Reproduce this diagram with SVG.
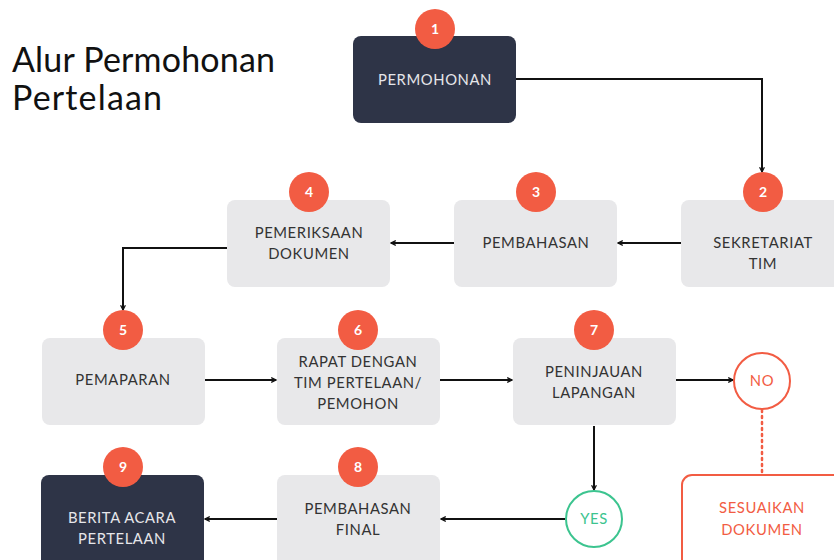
<svg xmlns="http://www.w3.org/2000/svg" width="834" height="560" viewBox="0 0 834 560">
<defs>
<style>
.box{fill:#e8e8ea}
.dark{fill:#2e3447}
.t{font-family:Lato,"Open Sans",sans-serif;font-size:14.8px;letter-spacing:0.6px;text-anchor:middle;fill:#333333}
.tl{fill:#e6e6ea}
.badge{fill:#f25c43}
.n{font-family:Lato,"Open Sans",sans-serif;font-size:14px;font-weight:bold;text-anchor:middle;fill:#ffffff}
.c{fill:none;stroke:#111111;stroke-width:2}
.title{font-family:Lato,"Open Sans",sans-serif;font-size:34px;fill:#111111}
</style>
<marker id="ah" viewBox="0 0 10 10" refX="9" refY="5" markerWidth="6" markerHeight="6" orient="auto-start-reverse" markerUnits="userSpaceOnUse">
<path d="M1,1 L9,5 L1,9" fill="none" stroke="#111111" stroke-width="2"/>
</marker>
</defs>
<rect width="834" height="560" fill="#ffffff"/>
<g id="title">
<text class="title" x="12" y="72" textLength="263">Alur Permohonan</text>
<text class="title" x="12" y="110" textLength="150">Pertelaan</text>
</g>
<g id="connectors">
<polyline class="c" points="516,79 762,79 762,172" marker-end="url(#ah)"/>
<line class="c" x1="681" y1="243" x2="618" y2="243" marker-end="url(#ah)"/>
<line class="c" x1="454" y1="243" x2="391" y2="243" marker-end="url(#ah)"/>
<polyline class="c" points="227,248 123,248 123,310" marker-end="url(#ah)"/>
<line class="c" x1="205" y1="380" x2="276" y2="380" marker-end="url(#ah)"/>
<line class="c" x1="440" y1="380" x2="512" y2="380" marker-end="url(#ah)"/>
<line class="c" x1="676" y1="380" x2="733" y2="380" marker-end="url(#ah)"/>
<line class="c" x1="594" y1="426" x2="594" y2="490" marker-end="url(#ah)"/>
<line class="c" x1="565" y1="519" x2="441" y2="519" marker-end="url(#ah)"/>
<line class="c" x1="277" y1="519" x2="205" y2="519" marker-end="url(#ah)"/>
<line x1="762" y1="410" x2="762" y2="474" stroke="#f25c43" stroke-width="2.5" stroke-dasharray="2 4" stroke-linecap="round"/>
</g>
<g id="n1">
<rect class="dark" x="353" y="36" width="163" height="87" rx="8"/>
<text class="t tl" x="435" y="85">PERMOHONAN</text>
<circle class="badge" cx="435" cy="29" r="20"/>
<text class="n" x="435" y="34">1</text>
</g>
<g id="n2">
<rect class="box" x="681" y="200" width="170" height="87" rx="8"/>
<text class="t" x="763" y="248">SEKRETARIAT</text>
<text class="t" x="763" y="269">TIM</text>
<circle class="badge" cx="763" cy="192" r="20"/>
<text class="n" x="763" y="197">2</text>
</g>
<g id="n3">
<rect class="box" x="454" y="200" width="163" height="87" rx="8"/>
<text class="t" x="536" y="248">PEMBAHASAN</text>
<circle class="badge" cx="536" cy="192" r="20"/>
<text class="n" x="536" y="197">3</text>
</g>
<g id="n4">
<rect class="box" x="227" y="200" width="163" height="87" rx="8"/>
<text class="t" x="309" y="238">PEMERIKSAAN</text>
<text class="t" x="309" y="259">DOKUMEN</text>
<circle class="badge" cx="309" cy="192" r="20"/>
<text class="n" x="309" y="197">4</text>
</g>
<g id="n5">
<rect class="box" x="42" y="338" width="163" height="87" rx="8"/>
<text class="t" x="123" y="385">PEMAPARAN</text>
<circle class="badge" cx="123" cy="330" r="20"/>
<text class="n" x="123" y="335">5</text>
</g>
<g id="n6">
<rect class="box" x="277" y="338" width="163" height="87" rx="8"/>
<text class="t" x="358" y="367">RAPAT DENGAN</text>
<text class="t" x="358" y="388">TIM PERTELAAN/</text>
<text class="t" x="358" y="409">PEMOHON</text>
<circle class="badge" cx="358" cy="330" r="20"/>
<text class="n" x="358" y="335">6</text>
</g>
<g id="n7">
<rect class="box" x="513" y="338" width="163" height="87" rx="8"/>
<text class="t" x="594" y="377">PENINJAUAN</text>
<text class="t" x="594" y="398">LAPANGAN</text>
<circle class="badge" cx="594" cy="330" r="20"/>
<text class="n" x="594" y="335">7</text>
</g>
<g id="no">
<circle cx="762" cy="381" r="28" fill="#ffffff" stroke="#f25c43" stroke-width="2"/>
<text class="t" x="762" y="386" style="fill:#f25c43">NO</text>
</g>
<g id="sesuaikan">
<rect x="682" y="475" width="170" height="100" rx="10" fill="#ffffff" stroke="#f25c43" stroke-width="2"/>
<text class="t" x="762" y="513" style="fill:#f25c43">SESUAIKAN</text>
<text class="t" x="762" y="535" style="fill:#f25c43">DOKUMEN</text>
</g>
<g id="yes">
<circle cx="594" cy="519" r="28" fill="#ffffff" stroke="#3cc48f" stroke-width="2"/>
<text class="t" x="594" y="524" style="fill:#3cc48f">YES</text>
</g>
<g id="n8">
<rect class="box" x="277" y="475" width="163" height="100" rx="8"/>
<text class="t" x="358" y="514">PEMBAHASAN</text>
<text class="t" x="358" y="535">FINAL</text>
<circle class="badge" cx="358" cy="467" r="20"/>
<text class="n" x="358" y="472">8</text>
</g>
<g id="n9">
<rect class="dark" x="41" y="475" width="163" height="100" rx="8"/>
<text class="t tl" x="122" y="523">BERITA ACARA</text>
<text class="t tl" x="122" y="544">PERTELAAN</text>
<circle class="badge" cx="123" cy="467" r="20"/>
<text class="n" x="123" y="472">9</text>
</g>
</svg>
